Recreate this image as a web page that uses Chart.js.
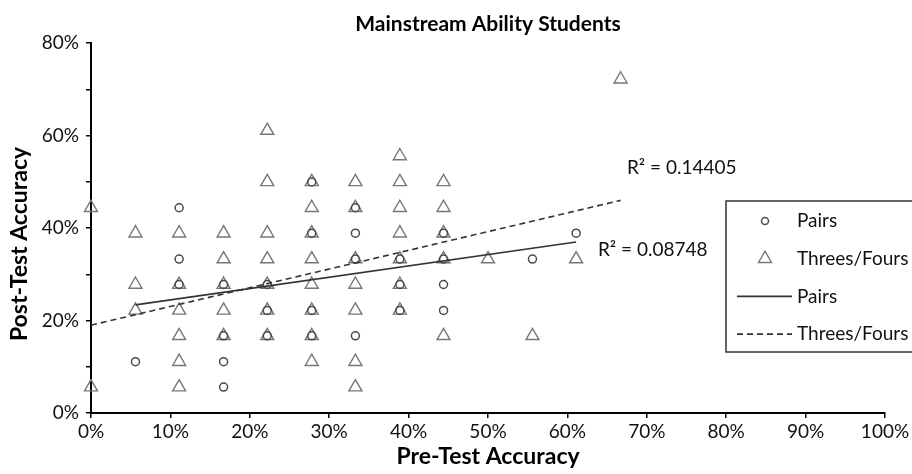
<!DOCTYPE html>
<html><head><meta charset="utf-8">
<script src="https://cdn.jsdelivr.net/npm/chart.js@4/dist/chart.umd.min.js"></script>
<style>html,body{margin:0;padding:0;background:#fff;}#wrap{width:912px;height:474px;position:relative}</style>
</head><body><div id="wrap"><canvas id="c" width="912" height="474"></canvas></div>
<script>
// Pairs (circles): pre-test accuracy vs post-test accuracy
const pairsX = [0.056,0.111,0.111,0.111,0.167,0.167,0.167,0.167,0.222,0.222,0.222,0.278,0.278,0.278,0.278,0.333,0.333,0.333,0.333,0.389,0.389,0.389,0.444,0.444,0.444,0.444,0.556,0.611];
const pairsY = [0.111,0.444,0.333,0.278,0.278,0.167,0.111,0.056,0.278,0.222,0.167,0.500,0.389,0.222,0.167,0.444,0.389,0.333,0.167,0.333,0.278,0.222,0.389,0.333,0.278,0.222,0.333,0.389];
// Threes/Fours (triangles)
const groupX = [0,0,
  0.056,0.056,0.056,
  0.111,0.111,0.111,0.111,0.111,0.111,
  0.167,0.167,0.167,0.167,0.167,
  0.222,0.222,0.222,0.222,0.222,0.222,0.222,
  0.278,0.278,0.278,0.278,0.278,0.278,0.278,0.278,
  0.333,0.333,0.333,0.333,0.333,0.333,0.333,
  0.389,0.389,0.389,0.389,0.389,0.389,0.389,
  0.444,0.444,0.444,0.444,0.444,
  0.500,0.556,0.611,0.667];
const groupY = [0.444,0.056,
  0.389,0.278,0.222,
  0.389,0.278,0.222,0.167,0.111,0.056,
  0.389,0.333,0.278,0.222,0.167,
  0.611,0.500,0.389,0.333,0.278,0.222,0.167,
  0.500,0.444,0.389,0.333,0.278,0.222,0.167,0.111,
  0.500,0.444,0.333,0.278,0.222,0.111,0.056,
  0.556,0.500,0.444,0.389,0.333,0.278,0.222,
  0.500,0.444,0.389,0.333,0.167,
  0.333,0.167,0.333,0.722];
// Linear trendline endpoints
const pairsTrendX = [0.056, 0.611];
const pairsTrendY = [0.234, 0.370];
const groupTrendX = [0.0, 0.667];
const groupTrendY = [0.190, 0.460];
const r2Texts = ['R\u00B2 = 0.14405', 'R\u00B2 = 0.08748'];
const seriesNames = ['Pairs', 'Threes/Fours', 'Pairs', 'Threes/Fours'];
const chartTitle = 'Mainstream Ability Students';
const xTitle = 'Pre-Test Accuracy';
const yTitle = 'Post-Test Accuracy';

const toPts = (xs, ys) => xs.map((x, i) => ({x, y: ys[i]}));
const FONT = 'Lato, "Open Sans", sans-serif';

const r2Plugin = {
  id: 'r2Labels',
  afterDatasetsDraw(chart, args, opts) {
    const {ctx, scales: {x, y}} = chart;
    ctx.save();
    ctx.font = opts.font;
    ctx.fillStyle = '#111';
    ctx.textBaseline = 'middle';
    ctx.textAlign = 'left';
    opts.items.forEach((it, i) => {
      ctx.fillText(r2Texts[i], x.getPixelForValue(it.x), y.getPixelForValue(it.y));
    });
    ctx.restore();
  }
};

const yTitlePlugin = {
  id: 'yTitle',
  afterDraw(chart, args, o) {
    const ctx = chart.ctx;
    ctx.save();
    ctx.translate(o.x, o.y);
    ctx.rotate(-Math.PI / 2);
    ctx.font = o.font;
    ctx.fillStyle = '#000';
    ctx.textAlign = 'center';
    ctx.textBaseline = 'middle';
    ctx.fillText(yTitle, 0, 0);
    ctx.restore();
  }
};

function drawMarker(ctx, style, r, cx, cy) {
  ctx.beginPath();
  if (style === 'triangle') {
    let a = 0;
    ctx.moveTo(cx + Math.sin(a) * r, cy - Math.cos(a) * r);
    a += 2 * Math.PI / 3;
    ctx.lineTo(cx + Math.sin(a) * r, cy - Math.cos(a) * r);
    a += 2 * Math.PI / 3;
    ctx.lineTo(cx + Math.sin(a) * r, cy - Math.cos(a) * r);
    ctx.closePath();
  } else {
    ctx.arc(cx, cy, r, 0, Math.PI * 2);
  }
  ctx.stroke();
}

const legendPlugin = {
  id: 'boxLegend',
  afterDraw(chart, args, o) {
    const ctx = chart.ctx;
    ctx.save();
    ctx.strokeStyle = '#333';
    ctx.lineWidth = 1.5;
    ctx.strokeRect(o.left, o.top, o.width, o.height);
    ctx.font = o.font;
    ctx.textBaseline = 'middle';
    ctx.textAlign = 'left';
    chart.data.datasets.forEach((ds, i) => {
      const yy = o.top + o.firstRow + i * o.rowGap;
      ctx.strokeStyle = ds.borderColor;
      ctx.lineWidth = ds.borderWidth;
      if (ds.showLine) {
        ctx.setLineDash(ds.borderDash || []);
        ctx.beginPath();
        ctx.moveTo(o.lineX0, yy);
        ctx.lineTo(o.lineX1, yy);
        ctx.stroke();
        ctx.setLineDash([]);
      } else {
        drawMarker(ctx, ds.pointStyle, o.markerRadius[ds.pointStyle], o.markerX, yy);
      }
      ctx.fillStyle = '#111';
      ctx.fillText(ds.label, o.textX, yy);
    });
    ctx.restore();
  }
};

new Chart(document.getElementById('c'), {
  type: 'scatter',
  data: {
    datasets: [
      {label: seriesNames[0], data: toPts(pairsX, pairsY), pointStyle: 'circle', pointRadius: 4, pointHoverRadius: 4,
       borderColor: '#4a4a4a', backgroundColor: 'rgba(0,0,0,0)', borderWidth: 1.5, clip: false, order: 2},
      {label: seriesNames[1], data: toPts(groupX, groupY), pointStyle: 'triangle', pointRadius: 7.5, pointHoverRadius: 7.5,
       borderColor: '#777', backgroundColor: 'rgba(0,0,0,0)', borderWidth: 1.4, clip: false, order: 3},
      {label: seriesNames[2], data: toPts(pairsTrendX, pairsTrendY), showLine: true, pointRadius: 0,
       borderColor: '#333', borderWidth: 1.6, clip: false, order: 0},
      {label: seriesNames[3], data: toPts(groupTrendX, groupTrendY), showLine: true, pointRadius: 0,
       borderColor: '#333', borderWidth: 1.6, borderDash: [6, 4], clip: false, order: 1}
    ]
  },
  options: {
    responsive: false,
    animation: false,
    events: [],
    layout: {padding: {left: 0, right: 27, top: 0, bottom: 0}},
    plugins: {
      legend: {display: false},
      tooltip: {enabled: false},
      title: {display: true, fullSize: false, text: chartTitle, color: '#000',
        font: {family: FONT, size: 21, weight: 'bold'}, padding: {top: 12, bottom: 6}},
      r2Labels: {font: '19px ' + FONT, items: [{x: 0.675, y: 0.530}, {x: 0.6385, y: 0.352}]},
      yTitle: {x: 20, y: 244, font: 'bold 23px ' + FONT},
      boxLegend: {left: 726, top: 201, width: 200, height: 151, firstRow: 20, rowGap: 37.7,
        markerX: 765, lineX0: 737, lineX1: 792, textX: 797, font: '19px ' + FONT,
        markerRadius: {circle: 3.5, triangle: 7.5}}
    },
    scales: {
      x: {
        type: 'linear', min: 0, max: 1,
        afterFit: s => { s.height = 61; },
        border: {display: true, color: '#000', width: 2},
        grid: {drawOnChartArea: false, drawTicks: true, tickLength: 5, color: '#000', lineWidth: 1.5},
        ticks: {stepSize: 0.1, color: '#111', padding: 2, font: {family: FONT, size: 19},
          callback: v => Math.round(v * 100) + '%'},
        title: {display: true, text: xTitle, color: '#000', font: {family: FONT, size: 23, weight: 'bold'},
          padding: {top: 0, bottom: 4}}
      },
      y: {
        type: 'linear', min: 0, max: 0.8,
        afterFit: s => { s.width = 91; },
        border: {display: true, color: '#000', width: 2},
        grid: {drawOnChartArea: false, drawTicks: true, tickLength: 5, color: '#000', lineWidth: 1.5},
        ticks: {stepSize: 0.1, color: '#111', padding: 7, font: {family: FONT, size: 19},
          callback: v => (Math.round(v * 10) % 2 === 0 ? Math.round(v * 100) + '%' : '')}
      }
    }
  },
  plugins: [r2Plugin, legendPlugin, yTitlePlugin]
});
</script>
</body></html>
